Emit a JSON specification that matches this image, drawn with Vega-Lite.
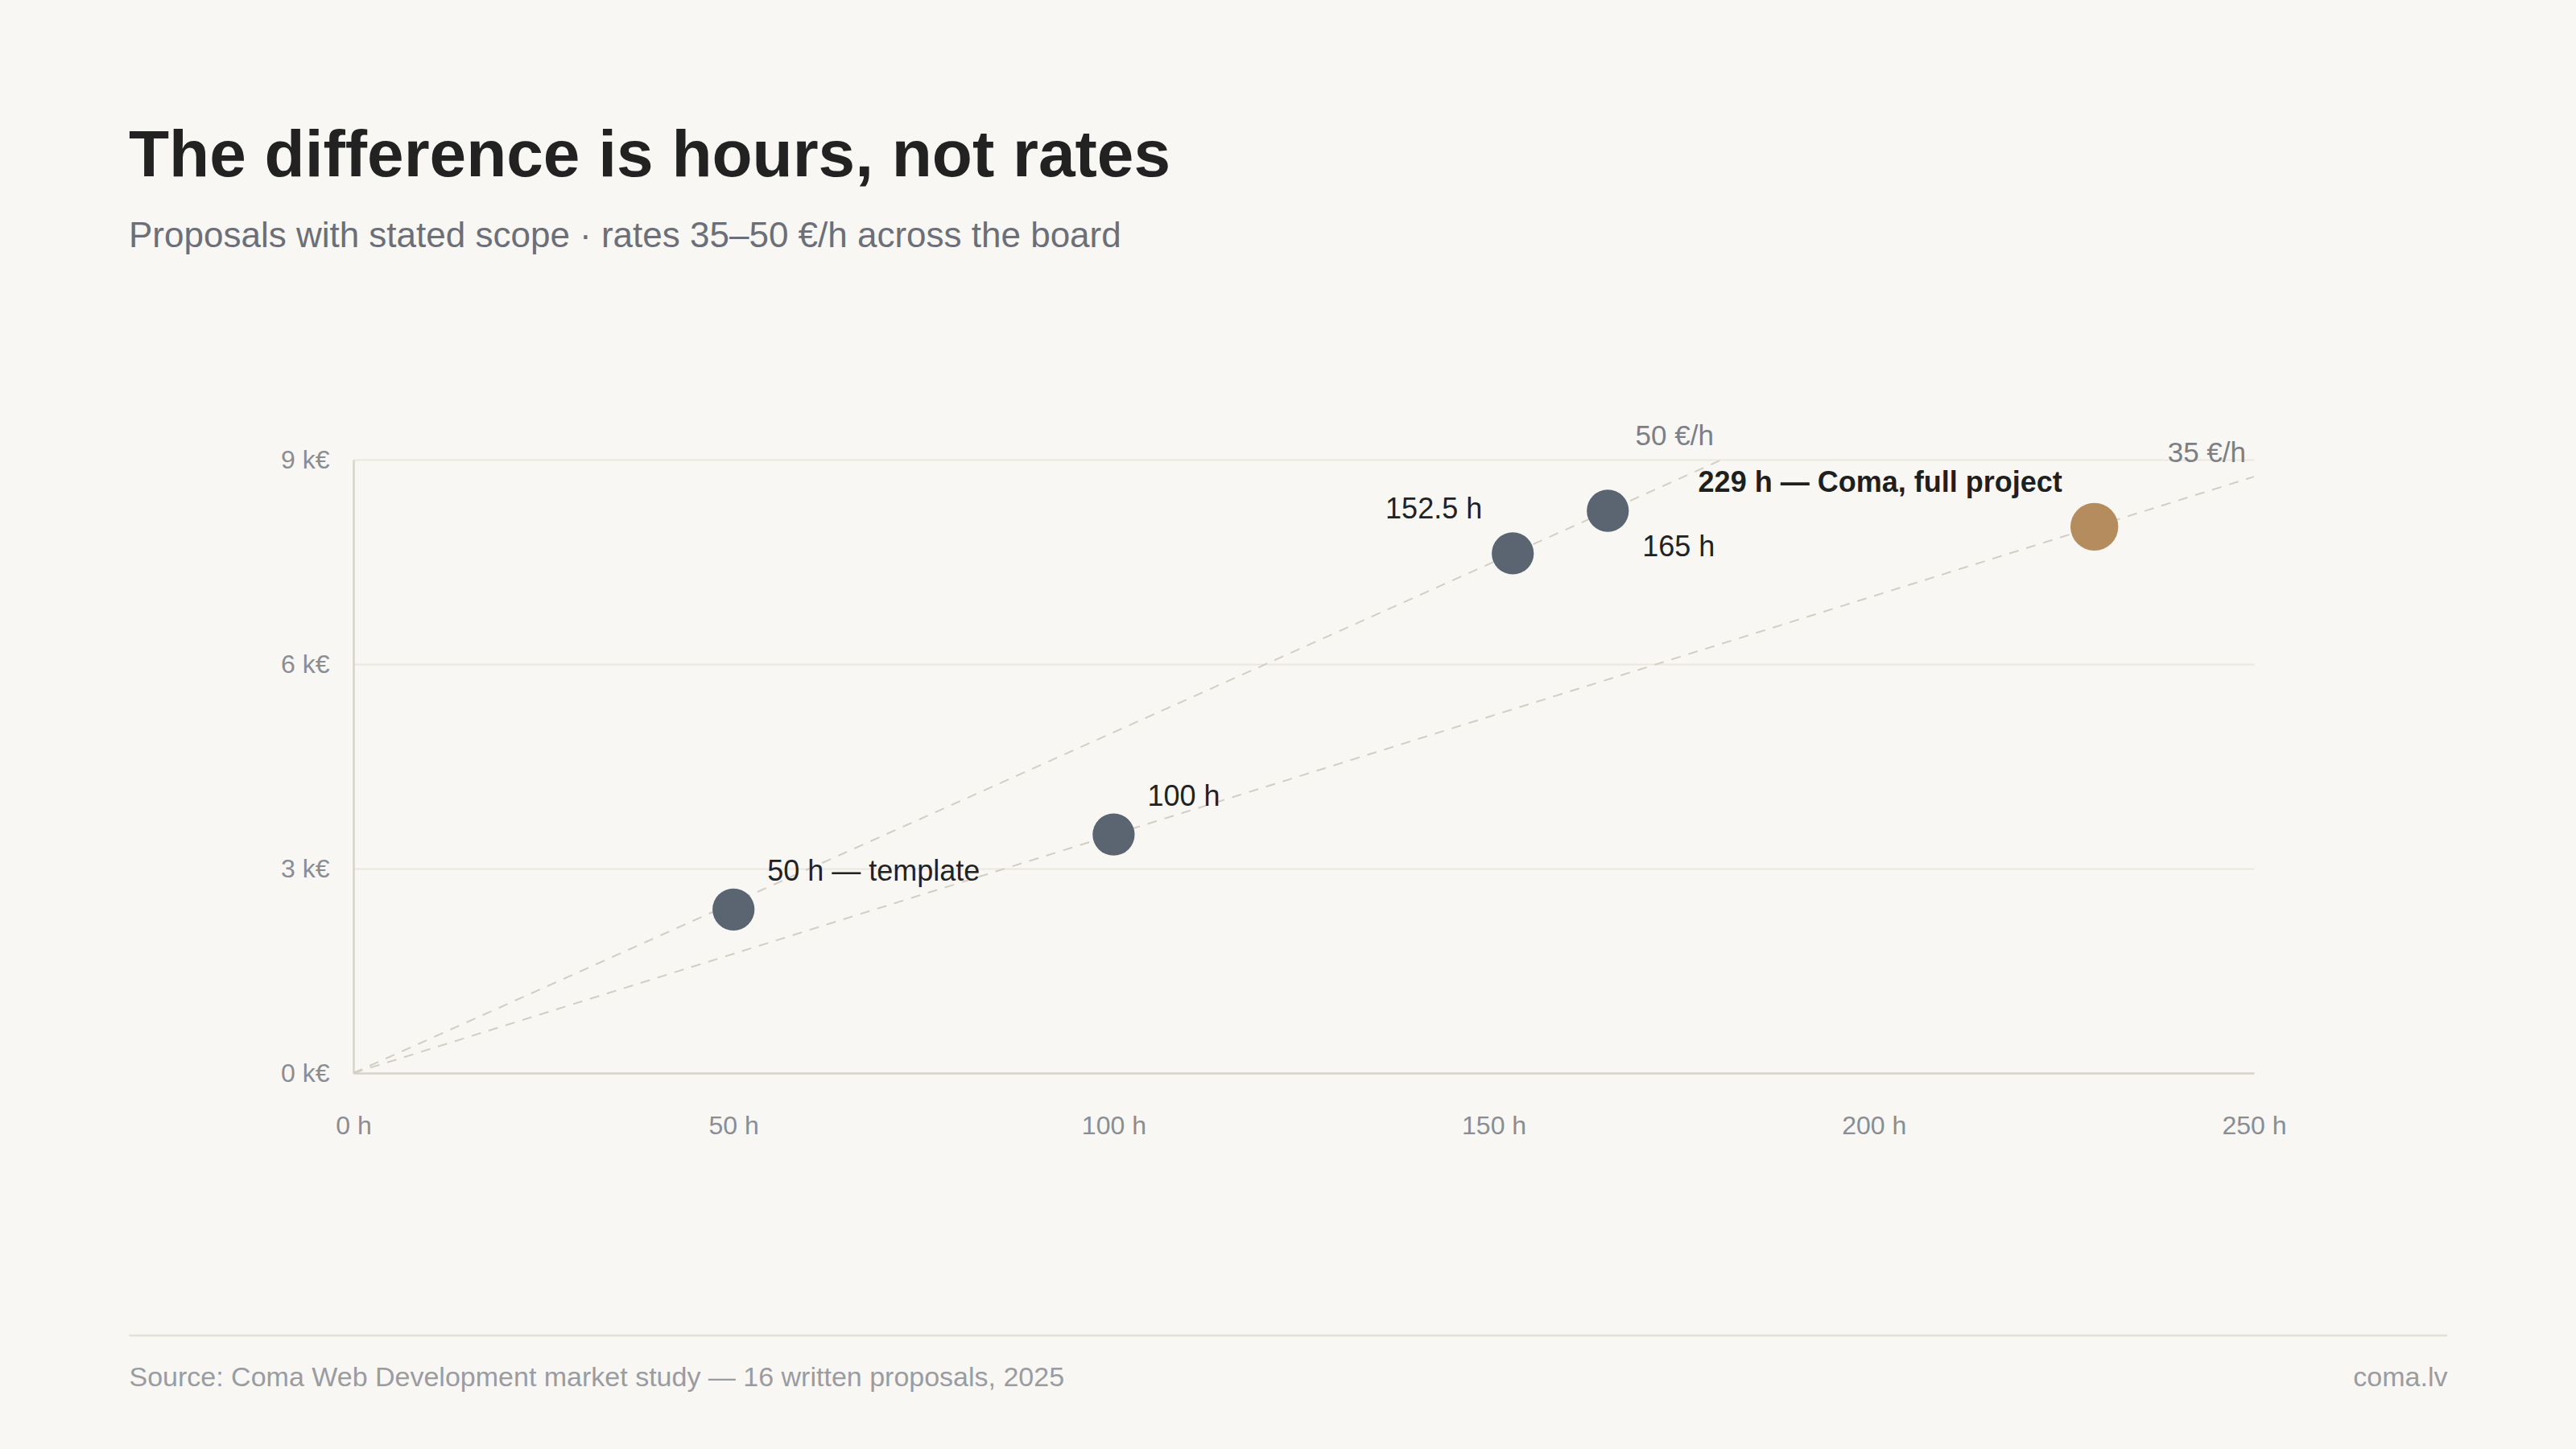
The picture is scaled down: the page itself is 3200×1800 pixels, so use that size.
{
  "$schema": "https://vega.github.io/schema/vega-lite/v6.json",
  "width": 2361,
  "height": 762,
  "autosize": {"type": "none"},
  "padding": {"left": 439, "top": 571, "right": 400, "bottom": 467},
  "background": "#f8f7f3",
  "config": {
    "view": {"stroke": null},
    "font": "Liberation Sans",
    "text": {"font": "Liberation Sans"}
  },
  "title": {
    "text": "The difference is hours, not rates",
    "subtitle": "Proposals with stated scope · rates 35–50 €/h across the board",
    "anchor": "start",
    "frame": "group",
    "dx": -279,
    "offset": 208,
    "font": "Liberation Sans",
    "fontSize": 82,
    "fontWeight": "bold",
    "color": "#222222",
    "subtitleFont": "Liberation Sans",
    "subtitleFontSize": 44,
    "subtitleColor": "#6c6f77",
    "subtitlePadding": 36
  },
  "datasets": {
    "proposals": [
      {"hours": 50, "cost": 2400, "label": "50 h — template", "group": "market"},
      {"hours": 100, "cost": 3500, "label": "100 h", "group": "market"},
      {"hours": 152.5, "cost": 7625, "label": "152.5 h", "group": "market"},
      {"hours": 165, "cost": 8250, "label": "165 h", "group": "market"},
      {"hours": 229, "cost": 8015, "label": "229 h — Coma, full project", "group": "coma"}
    ],
    "rates": [
      {"rate": "50 €/h", "hours": 0, "cost": 0},
      {"rate": "50 €/h", "hours": 180, "cost": 9000},
      {"rate": "35 €/h", "hours": 0, "cost": 0},
      {"rate": "35 €/h", "hours": 250, "cost": 8750}
    ]
  },
  "encoding": {
    "x": {
      "field": "hours",
      "type": "quantitative",
      "scale": {"domain": [0, 250], "nice": false, "zero": true},
      "axis": {
        "values": [0, 50, 100, 150, 200, 250],
        "labelExpr": "datum.value + ' h'",
        "labelFlush": false,
        "labelAlign": "center",
        "grid": false,
        "ticks": false,
        "domain": true,
        "domainColor": "#d8d4ca",
        "domainWidth": 2.5,
        "labelFont": "Liberation Sans",
        "labelFontSize": 32,
        "labelColor": "#8a8d94",
        "labelPadding": 50,
        "title": "Source: Coma Web Development market study — 16 written proposals, 2025",
        "titleFont": "Liberation Sans",
        "titleFontSize": 34,
        "titleFontWeight": "normal",
        "titleColor": "#9a9ca2",
        "titleAnchor": "start",
        "titleAlign": "left",
        "titleBaseline": "middle",
        "titleX": -279,
        "titleY": 378
      }
    },
    "y": {
      "field": "cost",
      "type": "quantitative",
      "scale": {"domain": [0, 9000], "nice": false, "zero": true},
      "axis": {
        "values": [0, 3000, 6000, 9000],
        "labelExpr": "(datum.value / 1000) + ' k€'",
        "grid": true,
        "gridColor": "#ebe7df",
        "gridWidth": 2,
        "ticks": false,
        "domain": true,
        "domainColor": "#d8d4ca",
        "domainWidth": 2.5,
        "labelFont": "Liberation Sans",
        "labelFontSize": 32,
        "labelColor": "#8a8d94",
        "labelPadding": 30,
        "title": "coma.lv",
        "titleFont": "Liberation Sans",
        "titleFontSize": 34,
        "titleFontWeight": "normal",
        "titleColor": "#9a9ca2",
        "titleAngle": 0,
        "titleAlign": "right",
        "titleBaseline": "middle",
        "titleX": 2601,
        "titleY": 1140
      }
    }
  },
  "layer": [
    {
      "data": {"name": "rates"},
      "mark": {"type": "line", "color": "#d3cec4", "strokeWidth": 2, "strokeDash": [12, 10], "clip": false},
      "encoding": {"detail": {"field": "rate"}}
    },
    {
      "data": {"name": "rates"},
      "transform": [{"filter": "datum.hours > 0"}],
      "mark": {"type": "text", "align": "right", "baseline": "middle", "dx": -10, "dy": -29, "fontSize": 35, "color": "#7c7f86"},
      "encoding": {"text": {"field": "rate"}}
    },
    {
      "data": {"name": "proposals"},
      "mark": {"type": "circle", "opacity": 1},
      "encoding": {
        "color": {"field": "group", "type": "nominal", "scale": {"domain": ["market", "coma"], "range": ["#5b6572", "#b58c5e"]}, "legend": null},
        "size": {"field": "group", "type": "nominal", "scale": {"domain": ["market", "coma"], "range": [2730, 3520]}, "legend": null}
      }
    },
    {
      "data": {"name": "proposals"},
      "transform": [{"filter": "datum.hours == 50 || datum.hours == 100"}],
      "mark": {"type": "text", "align": "left", "baseline": "middle", "dx": 42, "dy": -47, "fontSize": 36, "color": "#222222"},
      "encoding": {"text": {"field": "label"}}
    },
    {
      "data": {"name": "proposals"},
      "transform": [{"filter": "datum.hours == 152.5"}],
      "mark": {"type": "text", "align": "right", "baseline": "middle", "dx": -38, "dy": -54, "fontSize": 36, "color": "#222222"},
      "encoding": {"text": {"field": "label"}}
    },
    {
      "data": {"name": "proposals"},
      "transform": [{"filter": "datum.hours == 165"}],
      "mark": {"type": "text", "align": "left", "baseline": "middle", "dx": 43, "dy": 45, "fontSize": 36, "color": "#222222"},
      "encoding": {"text": {"field": "label"}}
    },
    {
      "data": {"name": "proposals"},
      "transform": [{"filter": "datum.group == 'coma'"}],
      "mark": {"type": "text", "align": "right", "baseline": "middle", "dx": -40, "dy": -54, "fontSize": 36, "fontWeight": "bold", "color": "#1f1f1f"},
      "encoding": {"text": {"field": "label"}}
    },
    {
      "data": {"name": "proposals"},
      "transform": [{"filter": "datum.group == 'coma'"}],
      "mark": {"type": "rule", "color": "#e4e0d7", "strokeWidth": 2.5, "clip": false},
      "encoding": {
        "x": {"datum": -29.5, "type": "quantitative"},
        "x2": {"datum": 275.4},
        "y": {"datum": -3850, "type": "quantitative"}
      }
    }
  ]
}
